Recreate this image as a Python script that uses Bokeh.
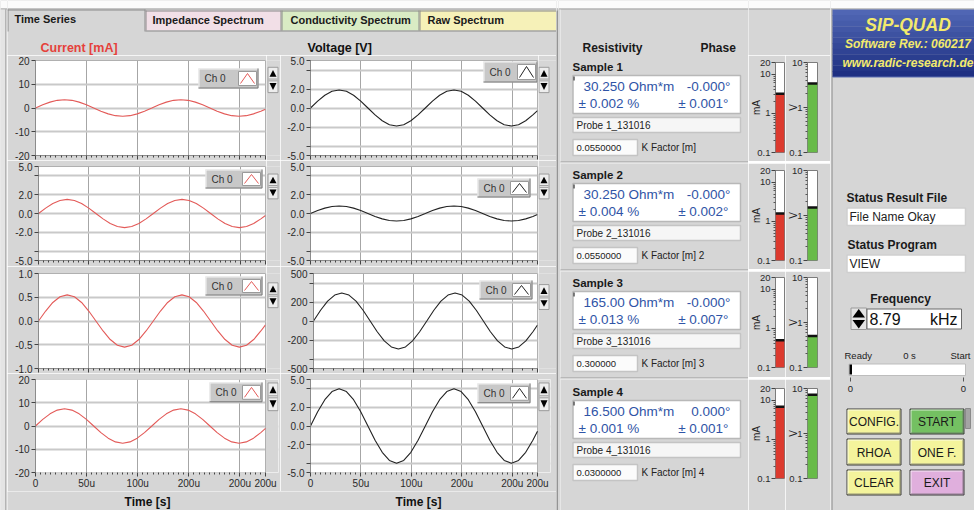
import math
from bokeh.plotting import figure
from bokeh.layouts import row, column
from bokeh.models import Range1d, FixedTicker
from bokeh.core.properties import value
from bokeh.embed import file_html
from bokeh.resources import INLINE

# ------------------------------------------------------------------ data
time_us = [0.0, 7.1, 14.2, 21.3, 28.4, 35.6, 42.7, 49.8, 56.9, 64.0, 71.1, 78.2, 85.3, 92.4, 99.5, 106.6,
           113.8, 120.9, 128.0, 135.1, 142.2, 149.3, 156.4, 163.5, 170.6, 177.7, 184.9, 192.0, 199.1, 206.2,
           213.3, 220.4, 225.0]
current_1 = [0.0, 1.34, 2.47, 3.23, 3.5, 3.23, 2.47, 1.34, 0.0, -1.34, -2.47, -3.23, -3.5, -3.23, -2.47, -1.34,
             0.0, 1.34, 2.47, 3.23, 3.5, 3.23, 2.47, 1.34, 0.0, -1.34, -2.47, -3.23, -3.5, -3.23, -2.47, -1.34, -0.49]
current_2 = [0.0, 0.57, 1.06, 1.39, 1.5, 1.39, 1.06, 0.57, 0.0, -0.57, -1.06, -1.39, -1.5, -1.39, -1.06, -0.57,
             0.0, 0.57, 1.06, 1.39, 1.5, 1.39, 1.06, 0.57, 0.0, -0.57, -1.06, -1.39, -1.5, -1.39, -1.06, -0.57, -0.21]
current_3 = [0.0, 0.21, 0.39, 0.51, 0.55, 0.51, 0.39, 0.21, 0.0, -0.21, -0.39, -0.51, -0.55, -0.51, -0.39, -0.21,
             0.0, 0.21, 0.39, 0.51, 0.55, 0.51, 0.39, 0.21, 0.0, -0.21, -0.39, -0.51, -0.55, -0.51, -0.39, -0.21, -0.08]
current_4 = [0.0, 2.83, 5.23, 6.84, 7.4, 6.84, 5.23, 2.83, 0.0, -2.83, -5.23, -6.84, -7.4, -6.84, -5.23, -2.83,
             0.0, 2.83, 5.23, 6.84, 7.4, 6.84, 5.23, 2.83, 0.0, -2.83, -5.23, -6.84, -7.4, -6.84, -5.23, -2.83, -1.04]
voltage_1 = [0.0, 0.73, 1.34, 1.76, 1.9, 1.76, 1.34, 0.73, 0.0, -0.73, -1.34, -1.76, -1.9, -1.76, -1.34, -0.73,
             0.0, 0.73, 1.34, 1.76, 1.9, 1.76, 1.34, 0.73, 0.0, -0.73, -1.34, -1.76, -1.9, -1.76, -1.34, -0.73, -0.27]
voltage_2 = [0.0, 0.31, 0.57, 0.74, 0.8, 0.74, 0.57, 0.31, 0.0, -0.31, -0.57, -0.74, -0.8, -0.74, -0.57, -0.31,
             0.0, 0.31, 0.57, 0.74, 0.8, 0.74, 0.57, 0.31, 0.0, -0.31, -0.57, -0.74, -0.8, -0.74, -0.57, -0.31, -0.11]
voltage_3 = [0, 113, 209, 273, 295, 273, 209, 113, 0, -113, -209, -273, -295, -273, -209, -113,
             0, 113, 209, 273, 295, 273, 209, 113, 0, -113, -209, -273, -295, -273, -209, -113, -42]
voltage_4 = [0.0, 1.53, 2.83, 3.7, 4.0, 3.7, 2.83, 1.53, 0.0, -1.53, -2.83, -3.7, -4.0, -3.7, -2.83, -1.53,
             0.0, 1.53, 2.83, 3.7, 4.0, 3.7, 2.83, 1.53, 0.0, -1.53, -2.83, -3.7, -4.0, -3.7, -2.83, -1.53, -0.56]

x_ticks = [0, 50, 100, 150, 200, 225]
x_tick_labels = ["0", "50u", "100u", "200u", "200u", "200u"]

current_y_ticks = [[-20, -10, 0, 10, 20], [-5, -4, -2, 0, 2, 4, 5], [-1, -0.5, 0, 0.5, 1], [-20, -10, 0, 10, 20]]
current_y_labels = [["-20", "-10", "0", "10", "20"], ["-5.0", "", "-2.0", "0.0", "2.0", "", "5.0"],
                    ["-1.0", "-0.5", "0.0", "0.5", "1.0"], ["-20", "-10", "0", "10", "20"]]
voltage_y_ticks = [[-5, -4, -2, 0, 2, 4, 5], [-5, -4, -2, 0, 2, 4, 5],
                   [-500, -400, -200, 0, 200, 400, 500], [-5, -4, -2, 0, 2, 4, 5]]
voltage_y_labels = [["-5.0", "", "-2.0", "0.0", "2.0", "", "5.0"], ["-5.0", "", "-2.0", "0.0", "2.0", "", "5.0"],
                    ["-500", "", "-200", "0", "200", "", "500"], ["-5.0", "", "-2.0", "0.0", "2.0", "", "5.0"]]

tab_names = ["Time Series", "Impedance Spectrum", "Conductivity Spectrum", "Raw Spectrum"]
sample_names = ["Sample 1", "Sample 2", "Sample 3", "Sample 4"]
resistivity = ["30.250 Ohm*m", "30.250 Ohm*m", "165.00 Ohm*m", "16.500 Ohm*m"]
phase = ["-0.000°", "-0.000°", "-0.000°", "0.000°"]
resistivity_err = ["± 0.002 %", "± 0.004 %", "± 0.013 %", "± 0.001 %"]
phase_err = ["± 0.001°", "± 0.002°", "± 0.007°", "± 0.001°"]
probe_names = ["Probe 1_131016", "Probe 2_131016", "Probe 3_131016", "Probe 4_131016"]
k_factors = ["0.0550000", "0.0550000", "0.300000", "0.0300000"]
k_labels = ["K Factor [m]", "K Factor [m] 2", "K Factor [m] 3", "K Factor [m] 4"]
meter_current_mA = [3.2, 1.6, 0.5, 6.8]
meter_voltage_V = [3.4, 1.5, 0.5, 7.3]
mA_ticks = [0.1, 1, 10, 20]
mA_tick_labels = ["0.1", "1", "10", "20"]
V_ticks = [0.1, 1, 10]
V_tick_labels = ["0.1", "1", "10"]
log_minor = [0.2, 0.3, 0.4, 0.5, 0.6, 0.7, 0.8, 0.9, 2, 3, 4, 5, 6, 7, 8, 9]
status_file = "File Name Okay"
status_program = "VIEW"
frequency_text = "8.79"
button_names = ["CONFIG.", "START", "RHOA", "ONE F.", "CLEAR", "EXIT"]

# ------------------------------------------------------------------ style
GRAY = "#d6d6d6"
FONT = "Liberation Sans"
BLUE = "#2f54a6"
CUR_COLOR = "#e35a58"
VOLT_COLOR = "#222222"
TOPLINE = "#a0a0a0"


def base_fig(x0, x1, y0, y1, top_white=False):
    p = figure(width=x1 - x0, height=y1 - y0, x_range=Range1d(x0, x1), y_range=Range1d(y1, y0),
               x_axis_location=None, y_axis_location=None, min_border=0,
               toolbar_location=None, output_backend="svg", title=None)
    p.background_fill_color = GRAY
    p.border_fill_color = GRAY
    p.outline_line_color = None
    p.grid.visible = False
    if top_white:
        p.quad(left=x0, right=x1, top=0, bottom=8, fill_color="#fbfbfb", line_color=None)
        p.segment(x0=[x0], y0=[8.5], x1=[x1], y1=[8.5], line_color=TOPLINE)
    return p


def txt(p, x, y, s, size=12, color="#1e1e1e", bold=False, italic=False, align="left", base="middle"):
    style = "bold italic" if (bold and italic) else ("bold" if bold else ("italic" if italic else "normal"))
    p.text(x=[x], y=[y], text=[s], text_font=value(FONT), text_font_size="%spx" % size,
           text_color=color, text_font_style=style, text_align=align, text_baseline=base)


def box(p, l, r, t, b, fill="white", line="#b8b8b8", lw=1.5):
    p.quad(left=l, right=r, top=t, bottom=b, fill_color=fill, line_color=line, line_width=lw)


def ident(v):
    return v


def arrow_widget(p, a, t, X=ident, Y=ident):
    p.quad(left=X(a + 0.5), right=X(a + 10.5), top=Y(t + 0.5), bottom=Y(t + 28.5),
           fill_color="#ededed", line_color="#9c9c9c")
    p.patch(x=[X(a + 2), X(a + 9), X(a + 5.5)], y=[Y(t + 11), Y(t + 11), Y(t + 3.5)],
            fill_color="black", line_color=None)
    p.segment(x0=[X(a + 1), X(a + 1)], y0=[Y(t + 13.5), Y(t + 15.5)], x1=[X(a + 10), X(a + 10)],
              y1=[Y(t + 13.5), Y(t + 15.5)], line_color="#9c9c9c")
    p.patch(x=[X(a + 2), X(a + 9), X(a + 5.5)], y=[Y(t + 18), Y(t + 18), Y(t + 25.5)],
            fill_color="black", line_color=None)


def chart(x0, x1, fl, fr, y0, y1, ft, fb, yt, yl, ys, color, show_x, leg, ext=None, arrow=None, minor_step=5):
    ylo, yhi = yt[0], yt[-1]
    frame_r = ext if ext else fr
    x_end = 225.0 * (frame_r - fl) / float(fr - fl)
    p = figure(width=x1 - x0, height=y1 - y0, x_range=Range1d(0, x_end), y_range=Range1d(ylo, yhi),
               min_border_left=fl - x0, min_border_right=x1 - frame_r, min_border_top=ft - y0,
               min_border_bottom=y1 - fb, toolbar_location=None, output_backend="svg", title=None)
    p.background_fill_color = "white"
    p.border_fill_color = GRAY
    p.outline_line_color = "#b0b0b0"
    xa = p.xaxis[0]
    xa.ticker = FixedTicker(ticks=x_ticks,
                            minor_ticks=[m for m in range(minor_step, 225, minor_step) if m not in x_ticks])
    xa.axis_line_color = "#8c8c8c"
    xa.major_tick_line_color = "#444444"
    xa.major_tick_out = 4
    xa.major_tick_in = 0
    xa.minor_tick_line_color = "#444444"
    xa.minor_tick_out = 2
    xa.minor_tick_in = 0
    if show_x:
        xa.major_label_overrides = dict(zip(x_ticks, x_tick_labels))
        xa.major_label_text_font_size = "10px"
        xa.major_label_standoff = 1
        xa.major_label_text_font = FONT
        xa.major_label_text_color = "#2a2a2a"
    else:
        xa.major_label_overrides = dict((t, "") for t in x_ticks)
        xa.major_label_text_font_size = "1px"
        xa.major_label_standoff = 0
    ya = p.yaxis[0]
    ya.ticker = FixedTicker(ticks=yt, minor_ticks=[])
    ya.major_label_overrides = dict(zip(yt, yl))
    ya.axis_line_color = "#8c8c8c"
    ya.major_tick_line_color = "#444444"
    ya.major_tick_out = 4
    ya.major_tick_in = 0
    ya.major_label_standoff = 2
    ya.major_label_text_font_size = "10px"
    ya.major_label_text_font = FONT
    ya.major_label_text_color = "#2a2a2a"
    p.xgrid.grid_line_color = "#a6a6a6"
    p.xgrid.grid_line_width = 1
    p.ygrid.grid_line_color = "#c9c9c9"
    p.ygrid.grid_line_width = 2

    def dx(px):
        return (px - fl) / float(fr - fl) * 225.0

    def dy(py):
        return yhi - (py - ft) / float(fb - ft) * (yhi - ylo)

    if ext:
        # strip right of the plot area, inside the extended frame, holds the scroll arrows
        p.outline_line_color = None
        xa.axis_line_color = None
        p.quad(left=225, right=x_end, top=yhi, bottom=ylo, fill_color=GRAY, line_color=None)
        p.quad(left=0, right=225, top=yhi, bottom=ylo, fill_color=None, line_color="#b0b0b0")

    p.line(time_us, ys, line_color=color, line_width=1.1)

    lx0, lx1, ly0, ly1 = leg
    p.quad(left=dx(lx0), right=dx(lx1), top=dy(ly0), bottom=dy(ly1), fill_color="#c8c8c8", line_color=None)
    p.line([dx(lx0 + 0.5), dx(lx0 + 0.5), dx(lx1)], [dy(ly1), dy(ly0 + 0.5), dy(ly0 + 0.5)], line_color="#f4f4f4")
    p.line([dx(lx0), dx(lx1 - 0.5), dx(lx1 - 0.5)], [dy(ly1 - 0.5), dy(ly1 - 0.5), dy(ly0)], line_color="#7a7a7a")
    p.text(x=[dx(lx0 + 6)], y=[dy((ly0 + ly1) / 2.0)], text=["Ch 0"], text_font=value(FONT),
           text_font_size="10px", text_color="#333333", text_baseline="middle")
    p.quad(left=dx(lx1 - 20), right=dx(lx1 - 2), top=dy(ly0 + 3), bottom=dy(ly1 - 3), fill_color="white",
           line_color="#9a9a9a")
    p.line([dx(lx1 - 18), dx(lx1 - 11), dx(lx1 - 4)], [dy(ly1 - 5), dy(ly0 + 5), dy(ly1 - 5)], line_color=color)

    if arrow is not None:
        arrow_widget(p, arrow[0], arrow[1], dx, dy)
    return p


# ------------------------------------------------------------------ left panel
lstrip = base_fig(0, 7, 0, 510, top_white=True)
lstrip.quad(left=0, right=5, top=9, bottom=510, fill_color="#e4e4e4", line_color=None)
lstrip.segment(x0=[5.5, 6.5], y0=[9, 9], x1=[5.5, 6.5], y1=[510, 510], line_color=["#8a8a8a", "#f2f2f2"])

hdr = base_fig(7, 556, 0, 55, top_white=True)
tab_left = [7, 145, 281, 419]
tab_right = [145, 281, 419, 557]
tab_fill = [GRAY, "#f2dfe7", "#d9ebc4", "#f6f1b8"]
tab_text_x = [14, 152, 290, 427]
for i, name in enumerate(tab_names):
    top = 9 if i == 0 else 10
    bot = 31 if i == 0 else 30
    hdr.quad(left=tab_left[i], right=tab_right[i], top=top, bottom=bot, fill_color=tab_fill[i], line_color=None)
    hdr.segment(x0=[tab_left[i], tab_left[i] + 0.5, tab_right[i] - 0.5],
                y0=[top + 0.5, top, top],
                x1=[tab_right[i], tab_left[i] + 0.5, tab_right[i] - 0.5],
                y1=[top + 0.5, bot, bot], line_color="#8a8a8a")
    txt(hdr, tab_text_x[i], 19 if i else 18.5, name, 11, "#1a1a1a", bold=True)
hdr.segment(x0=[145], y0=[30.5], x1=[556], y1=[30.5], line_color="#8a8a8a")
txt(hdr, 40, 47.5, "Current [mA]", 12.5, "#e5413b", bold=True)
txt(hdr, 307, 47.5, "Voltage [V]", 12.5, "#111111", bold=True)

ROW_Y = [(55, 160), (160, 266), (266, 373), (373, 491)]
FRAME_Y = [(60, 155), (166, 260), (273, 368), (379, 473)]
CUR_FL = [35, 38, 38, 35]
VOLT_FL = [310, 310, 313, 310]
CUR_LEG = [(198, 258, 68, 88), (205, 262, 169, 188), (205, 262, 276, 295), (209, 262, 382, 402)]
VOLT_LEG = [(483, 537, 61, 82), (477, 530, 178, 197), (479, 532, 280, 299), (477, 530, 383, 403)]
ARROW_T_CUR = [62, 168, 276, 382]
ARROW_T_VOLT = [62, 168, 278, 382]
cur_data = [current_1, current_2, current_3, current_4]
volt_data = [voltage_1, voltage_2, voltage_3, voltage_4]

left_rows = [hdr]
for k in range(4):
    y0, y1 = ROW_Y[k]
    ft, fb = FRAME_Y[k]
    if k == 3:
        pc = chart(7, 280, CUR_FL[k], 265, y0, y1, ft, fb, current_y_ticks[k], current_y_labels[k], cur_data[k],
                   CUR_COLOR, True, CUR_LEG[k], ext=278, arrow=(267, ARROW_T_CUR[k]))
        pv = chart(280, 556, VOLT_FL[k], 537, y0, y1, ft, fb, voltage_y_ticks[k], voltage_y_labels[k],
                   volt_data[k], VOLT_COLOR, True, VOLT_LEG[k], ext=550, arrow=(538, ARROW_T_VOLT[k]))
        left_rows.append(row(pc, pv))
    else:
        pc = chart(7, 266, CUR_FL[k], 265, y0, y1, ft, fb, current_y_ticks[k], current_y_labels[k], cur_data[k],
                   CUR_COLOR, False, CUR_LEG[k])
        pv = chart(280, 538, VOLT_FL[k], 537, y0, y1, ft, fb, voltage_y_ticks[k], voltage_y_labels[k],
                   volt_data[k], VOLT_COLOR, False, VOLT_LEG[k], minor_step=10 if k == 2 else 5)
        al = base_fig(266, 280, y0, y1)
        arrow_widget(al, 267, ARROW_T_CUR[k])
        ar = base_fig(538, 556, y0, y1)
        arrow_widget(ar, 538, ARROW_T_VOLT[k])
        left_rows.append(row(pc, al, pv, ar))

tstrip = base_fig(7, 556, 491, 510)
txt(tstrip, 147, 501, "Time [s]", 12, "#111111", bold=True, align="center")
txt(tstrip, 418, 501, "Time [s]", 12, "#111111", bold=True, align="center")
left_rows.append(tstrip)
left_col = column(*left_rows)

edge = base_fig(556, 558, 0, 510, top_white=True)
edge.quad(left=[556, 557], right=[557, 558], top=[10, 10], bottom=[510, 510],
          fill_color=["#5e5e5e", "#8e8e8e"], line_color=None)

# ------------------------------------------------------------------ middle panel
info = base_fig(558, 748, 0, 510, top_white=True)
info.segment(x0=[558.5, 559.5], y0=[9, 9], x1=[558.5, 559.5], y1=[510, 510], line_color=["#9a9a9a", "#f6f6f6"])
txt(info, 582, 47, "Resistivity", 12, "#1a1a1a", bold=True)
txt(info, 700, 47, "Phase", 12, "#1a1a1a", bold=True)
SAMPLE_Y = [66, 174, 282, 391]
for i, h in enumerate(SAMPLE_Y):
    txt(info, 572, h, sample_names[i], 11.5, "#1a1a1a", bold=True)
    box(info, 572.5, 740, h + 9, h + 47)
    info.segment(x0=[573.5], y0=[h + 10], x1=[573.5], y1=[h + 14], line_color="#555555", line_width=1.5)
    txt(info, 583, h + 20, resistivity[i], 13.5, BLUE)
    txt(info, 730, h + 20, phase[i], 13.5, BLUE, align="right")
    txt(info, 578, h + 37, resistivity_err[i], 13.5, BLUE)
    txt(info, 728, h + 37, phase_err[i], 13.5, BLUE, align="right")
    box(info, 572.5, 740, h + 51, h + 66, fill="#f6f6f6", line="#c4c4c4")
    txt(info, 576, h + 59, probe_names[i], 10, "#222222")
    box(info, 572.5, 637, h + 73, h + 89, fill="#fbfbfb", line="#c4c4c4")
    txt(info, 576, h + 81, k_factors[i], 9.5, "#222222")
    txt(info, 641, h + 81, k_labels[i], 10, "#222222")
for y in [161, 269, 377]:
    info.segment(x0=[560, 560], y0=[y + 0.5, y + 1.5], x1=[748, 748], y1=[y + 0.5, y + 1.5],
                 line_color=["#9a9a9a", "#f4f4f4"])


def meter(x0, x1, fl, fr, y0, y1, ft, fb, top, ticks, labels, val, color, unit, unit_standoff):
    p = figure(width=x1 - x0, height=y1 - y0, x_range=Range1d(0, 1), y_range=Range1d(0.1, top),
               y_axis_type="log", x_axis_location=None,
               min_border_left=fl - x0, min_border_right=x1 - fr, min_border_top=ft - y0,
               min_border_bottom=y1 - fb, toolbar_location=None, output_backend="svg", title=None)
    p.background_fill_color = "white"
    p.border_fill_color = GRAY
    p.outline_line_color = "#7c7c7c"
    p.grid.visible = False
    ya = p.yaxis[0]
    ya.ticker = FixedTicker(ticks=ticks, minor_ticks=[m for m in log_minor if m < top])
    ya.major_label_overrides = dict(zip(ticks, labels))
    ya.axis_line_color = None
    ya.major_tick_line_color = "#444444"
    ya.major_tick_out = 4
    ya.major_tick_in = 0
    ya.minor_tick_line_color = "#555555"
    ya.minor_tick_out = 2
    ya.minor_tick_in = 0
    ya.major_label_standoff = 1
    ya.major_label_text_font_size = "9.5px"
    ya.major_label_text_font = FONT
    ya.major_label_text_color = "#2a2a2a"
    ya.axis_label = unit
    ya.axis_label_standoff = unit_standoff
    ya.axis_label_text_font_size = "10px"
    ya.axis_label_text_font_style = "normal"
    ya.axis_label_text_font = FONT
    ya.axis_label_text_color = "#222222"
    p.vbar(x=[0.5], width=1, bottom=0.1, top=[val], fill_color=color, line_color=None)
    p.segment(x0=[0], y0=[val], x1=[1], y1=[val], line_color="#111111", line_width=2.5)
    return p


mtop = base_fig(748, 830, 0, 55, top_white=True)
meter_items = [mtop]
MROW_Y = [(55, 161), (163, 269), (271, 377), (379, 510)]
MFRAME_Y = [(62, 152), (170, 260), (277, 367), (388, 478)]
for i in range(4):
    y0, y1 = MROW_Y[i]
    ft, fb = MFRAME_Y[i]
    ma = meter(748, 785, 771, 784, y0, y1, ft, fb, 20, mA_ticks, mA_tick_labels, meter_current_mA[i],
               "#dc3a2e", "mA", -8)
    mv = meter(785, 830, 804, 817, y0, y1, ft, fb, 10, V_ticks, V_tick_labels, meter_voltage_V[i],
               "#68bb48", "V", -13)
    meter_items.append(row(ma, mv))
    if i < 3:
        sep = base_fig(748, 830, y1, y1 + 2)
        sep.quad(left=[748, 748], right=[830, 830], top=[y1, y1 + 1], bottom=[y1 + 1, y1 + 2],
                 fill_color=["#9a9a9a", "#f4f4f4"], line_color=None)
        meter_items.append(sep)
meter_col = column(*meter_items)

# ------------------------------------------------------------------ right panel
rp = base_fig(830, 974, 0, 510, top_white=True)
rp.segment(x0=[830.5, 831.5], y0=[9, 9], x1=[830.5, 831.5], y1=[510, 510], line_color=["#f2f2f2", "#8a8a8a"])
top_c = (80, 102, 180)
bot_c = (30, 47, 130)
n_str = 12
for i in range(n_str):
    f = i / (n_str - 1.0)
    c = "#%02x%02x%02x" % tuple(int(a + (b - a) * f) for a, b in zip(top_c, bot_c))
    rp.quad(left=832, right=974, top=9 + i * 5.6, bottom=9 + (i + 1) * 5.6 + 0.3, fill_color=c, line_color=None)
rp.segment(x0=[832], y0=[76.5], x1=[974], y1=[76.5], line_color="#5a6cb0")
txt(rp, 907.5, 24, "SIP-QUAD", 17.5, "#f3ea6c", bold=True, italic=True, align="center")
txt(rp, 907.5, 43, "Software Rev.: 060217", 12, "#f3ea6c", bold=True, italic=True, align="center")
txt(rp, 907.5, 62, "www.radic-research.de", 12, "#f3ea6c", bold=True, italic=True, align="center")

txt(rp, 846, 197, "Status Result File", 12, "#1a1a1a", bold=True)
box(rp, 846.5, 965, 207.5, 225, fill="white", line="#cfcfcf")
txt(rp, 849, 216.5, status_file, 12, "#222222")
txt(rp, 847, 244, "Status Program", 12, "#1a1a1a", bold=True)
box(rp, 846.5, 965, 254.5, 272, fill="white", line="#cfcfcf")
txt(rp, 849, 263.5, status_program, 12, "#222222")

txt(rp, 900, 298.5, "Frequency", 12, "#1a1a1a", bold=True, align="center")
rp.quad(left=850.5, right=866, top=307.5, bottom=329, fill_color="#e4e4e4", line_color="#9a9a9a")
rp.patch(x=[852, 864.5, 858.25], y=[317, 317, 308.5], fill_color="black", line_color=None)
rp.patch(x=[852, 864.5, 858.25], y=[319.5, 319.5, 328], fill_color="black", line_color=None)
box(rp, 866.5, 961, 308.5, 328.5, fill="white", line="#6a6a6a", lw=1)
txt(rp, 869, 318.5, frequency_text, 16, "#111111")
txt(rp, 957, 318.5, "kHz", 16, "#111111", align="right")

txt(rp, 844, 355, "Ready", 9.5, "#222222")
txt(rp, 909, 355, "0 s", 9.5, "#222222", align="center")
txt(rp, 970, 355, "Start", 9.5, "#222222", align="right")
box(rp, 848.5, 965, 363.5, 375, fill="white", line="#bdbdbd", lw=1)
rp.quad(left=849, right=851.5, top=364, bottom=374, fill_color="black", line_color=None)
rp.segment(x0=[850, 963], y0=[377, 377], x1=[850, 963], y1=[381, 381], line_color="#555555")
txt(rp, 850, 388, "0", 9.5, "#222222", align="center")
txt(rp, 963, 388, "0", 9.5, "#222222", align="center")

btn_l = [846, 909, 846, 909, 846, 909]
btn_r = [901, 964, 901, 964, 901, 964]
btn_t = [408, 408, 438, 438, 469, 469]
btn_b = [434, 434, 465, 465, 495, 495]
btn_fill = ["#f4f49c", "#74c062", "#f4f49c", "#f4f49c", "#f4f49c", "#e0afdd"]
for i, name in enumerate(button_names):
    rp.quad(left=btn_l[i] + 0.5, right=btn_r[i] - 0.5, top=btn_t[i] + 0.5, bottom=btn_b[i] - 0.5,
            fill_color=btn_fill[i], line_color="#3a3a3a", line_width=1)
    rp.line([btn_l[i] + 1.5, btn_l[i] + 1.5, btn_r[i] - 1.5], [btn_b[i] - 1.5, btn_t[i] + 1.5, btn_t[i] + 1.5],
            line_color="#ffffff", line_alpha=0.7)
    rp.line([btn_l[i] + 1.5, btn_r[i] - 1.5, btn_r[i] - 1.5], [btn_b[i] - 1.5, btn_b[i] - 1.5, btn_t[i] + 1.5],
            line_color="#6a6a6a", line_alpha=0.7)
    txt(rp, (btn_l[i] + btn_r[i]) / 2.0, (btn_t[i] + btn_b[i]) / 2.0 + 0.5, name, 12, "#1a1a1a", align="center")
rp.quad(left=965, right=970, top=408, bottom=428, fill_color="#a4a4a4", line_color="#8a8a8a")

layout = row(lstrip, left_col, edge, info, meter_col, rp)
open("out.html", "w").write(file_html(layout, INLINE))
